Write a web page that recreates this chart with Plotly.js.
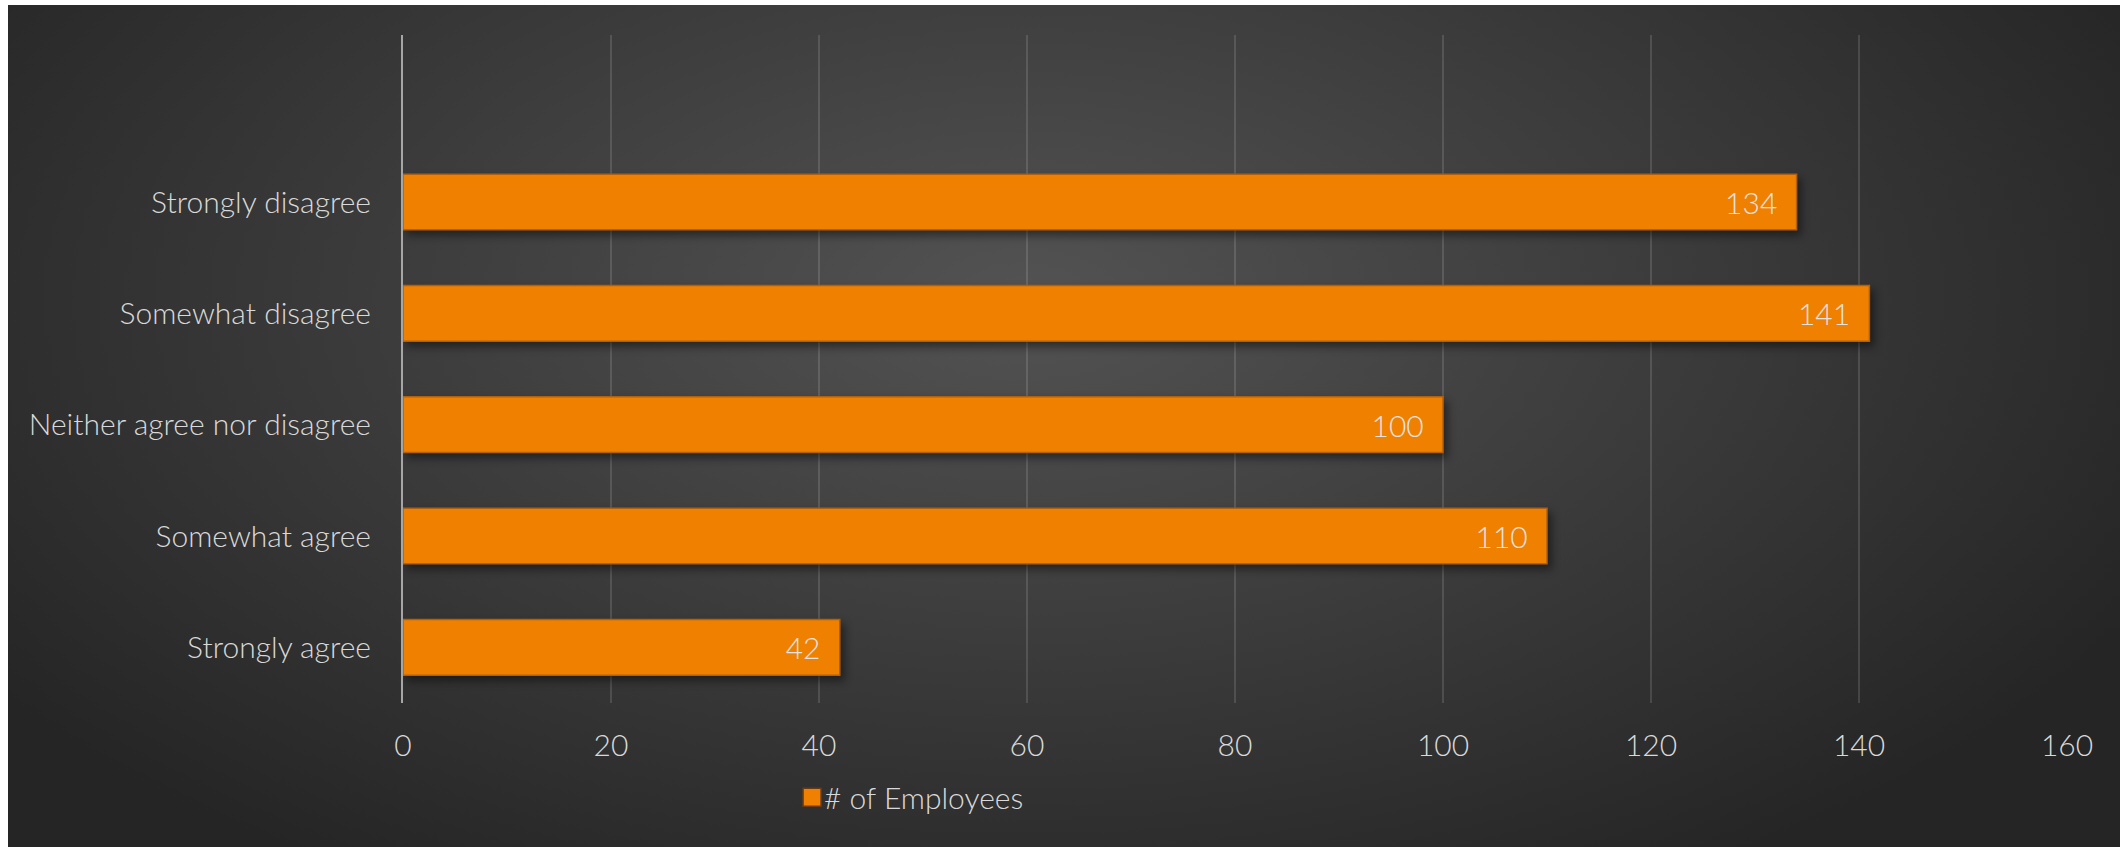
<!DOCTYPE html>
<html>
<head>
<meta charset="utf-8">
<script src="https://cdn.plot.ly/plotly-3.0.1.min.js"></script>
<style>
  html, body { margin: 0; padding: 0; background: #ffffff; width: 2120px; height: 847px; overflow: hidden; }
  #frame {
    position: absolute; left: 8px; top: 5px; width: 2112px; height: 842px;
    background: radial-gradient(ellipse 60% 80% at 48% 35%, #535353 0%, #3c3c3c 50%, #252525 100%);
  }
  #chart { position: absolute; left: 0; top: 0; width: 2112px; height: 842px; }
  #chart .bars .point path { filter: drop-shadow(4px 5px 4px rgba(0,0,0,0.45)); }
</style>
</head>
<body>
<div id="frame"><div id="chart"></div></div>
<script>
const categories = ["Strongly agree", "Somewhat agree", "Neither agree nor disagree", "Somewhat disagree", "Strongly disagree"];
const employees = [42, 110, 100, 141, 134];
const seriesName = "# of Employees";
const xTicks = [0, 20, 40, 60, 80, 100, 120, 140, 160];

const fontFamily = "Lato, 'Open Sans', sans-serif";
const textColor = "#d9d9d9";

const trace = {
  type: "bar",
  orientation: "h",
  y: categories,
  x: employees,
  name: seriesName,
  text: employees.map(v => String(v) + "\u00a0\u00a0"),
  textposition: "inside",
  insidetextanchor: "end",
  textangle: 0,
  constraintext: "none",
  textfont: { family: fontFamily, size: 30, color: "#e3e3e3", weight: 300 },
  marker: { color: "#f08000", line: { color: "#b0600e", width: 1.5 } },
  showlegend: true,
  hoverinfo: "none"
};

const layout = {
  width: 2112,
  height: 842,
  paper_bgcolor: "rgba(0,0,0,0)",
  plot_bgcolor: "rgba(0,0,0,0)",
  margin: { l: 395, r: 53, t: 30, b: 144 },
  bargap: 0.5,
  font: { family: fontFamily, size: 30, color: textColor, weight: 300 },
  xaxis: {
    range: [0, 160],
    tickvals: xTicks,
    ticktext: xTicks.map(String),
    showgrid: true,
    gridcolor: "rgba(255,255,255,0.13)",
    gridwidth: 1.5,
    zeroline: false,
    showline: false,
    ticks: "",
    ticklabelstandoff: 22,
    tickfont: { family: fontFamily, size: 30, color: textColor, weight: 300 },
    fixedrange: true
  },
  yaxis: {
    type: "category",
    categoryorder: "array",
    categoryarray: categories,
    range: [-0.5, 5.5],
    showgrid: false,
    zeroline: false,
    showline: true,
    linecolor: "#a6a6a6",
    linewidth: 2,
    ticks: "",
    ticklabelstandoff: 24,
    tickfont: { family: fontFamily, size: 30, color: textColor, weight: 300 },
    fixedrange: true
  },
  legend: {
    orientation: "h",
    x: 0.229,
    xanchor: "left",
    y: -0.102,
    yanchor: "top",
    font: { family: fontFamily, size: 30, color: textColor, weight: 300 },
    bgcolor: "rgba(0,0,0,0)",
    itemwidth: 30
  }
};

Plotly.newPlot("chart", [trace], layout, { displayModeBar: false, staticPlot: true }).then(gd => {
  gd.querySelectorAll(".legend .legendpoints path").forEach(p => {
    p.setAttribute("d", "M17,9H-1V-9H17Z");
    p.style.stroke = "#6b3a10";
    p.style.strokeWidth = "1.5px";
  });
});
</script>
</body>
</html>
